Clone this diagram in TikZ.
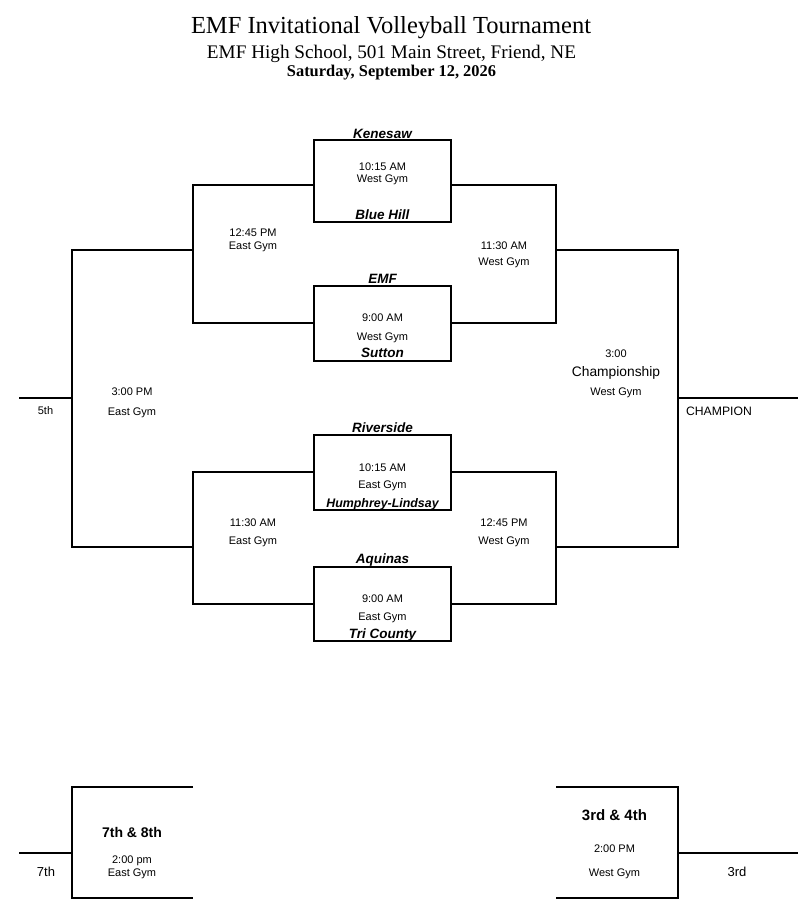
\documentclass[tikz,border=0pt]{standalone}
\usepackage{fontspec}
\setmainfont{Liberation Sans}
\newfontfamily\serifttl{Liberation Serif}
\begin{document}
\begin{tikzpicture}[x=1pt,y=-1pt,
  line width=1.2pt, line cap=butt,
  gamebox/.style={draw, rectangle, inner sep=0pt, minimum width=137pt},
  team/.style={anchor=base, inner sep=0pt, font=\fontsize{13.5}{15}\selectfont\bfseries\itshape},
  info/.style={anchor=base, inner sep=0pt, font=\fontsize{11}{13}\selectfont},
  place/.style={anchor=base, inner sep=0pt, font=\fontsize{12.2}{14}\selectfont},
  final/.style={anchor=base, inner sep=0pt, font=\fontsize{14}{16}\selectfont\bfseries}]
\useasboundingbox (0,0) rectangle (807,922);
% header
\node[anchor=base, inner sep=0pt, font=\serifttl\fontsize{24.5}{28}\selectfont] (title) at (391,33.3) {EMF Invitational Volleyball Tournament};
\node[anchor=base, inner sep=0pt, font=\serifttl\fontsize{19.2}{22}\selectfont] (sub) at (391.5,58.3) {EMF High School, 501 Main Street, Friend, NE};
\node[anchor=base, inner sep=0pt, font=\serifttl\fontsize{16.4}{19}\selectfont\bfseries] (date) at (391.5,76.7) {Saturday, September 12, 2026};
% game boxes
\node[gamebox, minimum height=82pt] (g1) at (382.5,181) {};
\node[gamebox, minimum height=75pt] (g2) at (382.5,323.5) {};
\node[gamebox, minimum height=75pt] (g3) at (382.5,472.5) {};
\node[gamebox, minimum height=74pt] (g4) at (382.5,604) {};
% bracket corners
\coordinate (l1a) at (193,185); \coordinate (l1b) at (193,323); \coordinate (l1m) at (193,250);
\coordinate (r1a) at (556,185); \coordinate (r1b) at (556,323); \coordinate (r1m) at (556,250);
\coordinate (l2a) at (193,472); \coordinate (l2b) at (193,604); \coordinate (l2m) at (193,547);
\coordinate (r2a) at (556,472); \coordinate (r2b) at (556,604); \coordinate (r2m) at (556,547);
\coordinate (ola) at (72,250); \coordinate (olb) at (72,547); \coordinate (olm) at (72,398);
\coordinate (ora) at (678,250); \coordinate (orb) at (678,547); \coordinate (orm) at (678,398);
\coordinate (fifth) at (19,398); \coordinate (champ) at (798,398);
\draw (g1.west |- l1a) -- (l1a) -- (l1b) -- (g2.west |- l1b);
\draw (g1.east |- r1a) -- (r1a) -- (r1b) -- (g2.east |- r1b);
\draw (g3.west |- l2a) -- (l2a) -- (l2b) -- (g4.west |- l2b);
\draw (g3.east |- r2a) -- (r2a) -- (r2b) -- (g4.east |- r2b);
\draw (l1m) -- (ola) -- (olb) -- (l2m);
\draw (r1m) -- (ora) -- (orb) -- (r2m);
\draw (olm) -- (fifth);
\draw (orm) -- (champ);
% consolation brackets
\coordinate (cla) at (193,787); \coordinate (clb) at (193,898);
\coordinate (cl1) at (72,787); \coordinate (cl2) at (72,898); \coordinate (clm) at (72,853); \coordinate (seventh) at (19,853);
\coordinate (cra) at (556,787); \coordinate (crb) at (556,898);
\coordinate (cr1) at (678,787); \coordinate (cr2) at (678,898); \coordinate (crm) at (678,853); \coordinate (third) at (798,853);
\draw (cla) -- (cl1) -- (cl2) -- (clb);
\draw (clm) -- (seventh);
\draw (cra) -- (cr1) -- (cr2) -- (crb);
\draw (crm) -- (third);
% game 1
\node[team] (t1) at (382.5,138.3) {Kenesaw};
\node[info] (g1t) at (382.5,170) {10:15 AM};
\node[info] (g1p) at (382.5,182.7) {West Gym};
\node[team] (t2) at (382.5,219) {Blue Hill};
% game 2
\node[team] (t3) at (382.5,283.3) {EMF};
\node[info] (g2t) at (382.5,321.7) {9:00 AM};
\node[info] (g2p) at (382.5,340) {West Gym};
\node[team] (t4) at (382.5,357.3) {Sutton};
% game 3
\node[team] (t5) at (382.5,432.3) {Riverside};
\node[info] (g3t) at (382.5,471) {10:15 AM};
\node[info] (g3p) at (382.5,488.3) {East Gym};
\node[team, font=\fontsize{12.4}{14}\selectfont\bfseries\itshape] (t6) at (382.5,507.3) {Humphrey-Lindsay};
% game 4
\node[team] (t7) at (382.5,563.3) {Aquinas};
\node[info] (g4t) at (382.5,602) {9:00 AM};
\node[info] (g4p) at (382.5,620.7) {East Gym};
\node[team] (t8) at (382.5,638.3) {Tri County};
% second round
\node[info] (s1t) at (253,236) {12:45 PM};
\node[info] (s1p) at (253,249) {East Gym};
\node[info] (s2t) at (504,249.3) {11:30 AM};
\node[info] (s2p) at (504,265.7) {West Gym};
\node[info] (s3t) at (253,526.7) {11:30 AM};
\node[info] (s3p) at (253,544.3) {East Gym};
\node[info] (s4t) at (504,526.7) {12:45 PM};
\node[info] (s4p) at (504,544.3) {West Gym};
% finals
\node[info] (f5t) at (132,395.7) {3:00 PM};
\node[info] (f5p) at (132,415) {East Gym};
\node[place, font=\fontsize{11}{13}\selectfont] (p5) at (45.5,414.3) {5th};
\node[info] (fct) at (616,357.7) {3:00};
\node[place, font=\fontsize{13.8}{16}\selectfont] (fcn) at (616,376.7) {Championship};
\node[info] (fcp) at (616,395.7) {West Gym};
\node[place] (pc) at (719,415) {CHAMPION};
% consolation
\node[final] (c7) at (132,837.7) {7th \& 8th};
\node[info] (c7t) at (132,863.3) {2:00 pm};
\node[info] (c7p) at (132,876.7) {East Gym};
\node[place, font=\fontsize{13}{15}\selectfont] (p7) at (46,876.7) {7th};
\node[final, font=\fontsize{15}{17}\selectfont\bfseries] (c3) at (614.5,820.7) {3rd \& 4th};
\node[info] (c3t) at (614.5,852.3) {2:00 PM};
\node[info] (c3p) at (614.5,876.7) {West Gym};
\node[place, font=\fontsize{13}{15}\selectfont] (p3) at (737,876.7) {3rd};
\end{tikzpicture}
\end{document}
